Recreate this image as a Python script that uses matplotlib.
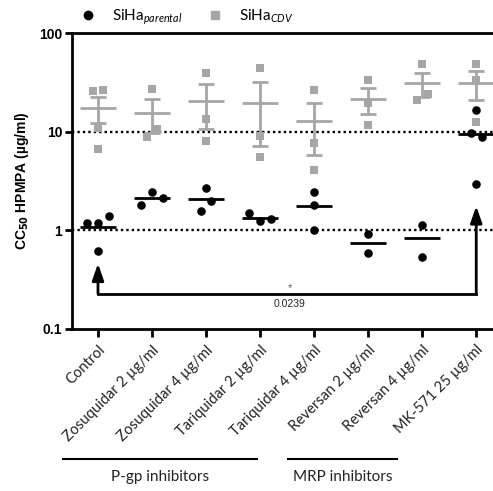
import numpy as np
import matplotlib.pyplot as plt
from matplotlib.lines import Line2D
from matplotlib.transforms import blended_transform_factory

plt.rcParams['font.family'] = ['Lato', 'DejaVu Sans']
plt.rcParams['mathtext.fontset'] = 'custom'
plt.rcParams['mathtext.rm'] = 'Lato'
plt.rcParams['mathtext.it'] = 'Lato:italic'

# treatments (x axis)
conditions = ["Control", "Zosuquidar 2 µg/ml", "Zosuquidar 4 µg/ml",
              "Tariquidar 2 µg/ml", "Tariquidar 4 µg/ml", "Reversan 2 µg/ml",
              "Reversan 4 µg/ml", "MK-571 25 µg/ml"]

# CC50 HPMPA (µg/ml), individual experiments
siha_parental = [
    [1.18, 1.18, 1.39, 0.615],
    [1.79, 2.45, 2.13],
    [2.67, 1.57, 1.97],
    [1.49, 1.23, 1.31],
    [2.43, 1.81, 1.0],
    [0.91, 0.59],
    [1.14, 0.54],
    [16.5, 9.6, 8.8, 2.97],
]
siha_cdv = [
    [25.9, 26.5, 10.9, 6.6],
    [27.3, 8.9, 10.6],
    [39.6, 13.4, 8.1],
    [44.4, 8.97, 5.5],
    [26.5, 7.6, 4.07],
    [33.6, 19.5, 11.8],
    [48.1, 21.0, 24.3],
    [48.1, 33.4, 12.6],
]

# inhibitor classes: name, extent of the underline along x
groups = [("P-gp inhibitors", -0.65, 2.94), ("MRP inhibitors", 3.52, 5.54)]
p_value = "0.0239"
compare = (0, 7)

GRAY = '#a6a6a6'

fig = plt.figure(figsize=(4.93, 4.91), dpi=100)
ax = fig.add_axes([72 / 493, 162 / 491, 421 / 493, 296 / 491])
ax.set_yscale('log')
ax.set_ylim(0.1, 100)
ax.set_xlim(-0.481, 7.31)


def spread(x0, vals, step=0.2, gap_px=11):
    # points closer than gap_px vertically are set side by side
    ypix = ax.transData.transform(np.column_stack([np.full(len(vals), x0), vals]))[:, 1]
    order = np.argsort(ypix)
    clusters, cur = [], [order[0]]
    for a, b in zip(order[:-1], order[1:]):
        if ypix[b] - ypix[a] < gap_px:
            cur.append(b)
        else:
            clusters.append(cur)
            cur = [b]
    clusters.append(cur)
    xs = np.full(len(vals), float(x0))
    for c in clusters:
        c = sorted(c)
        n = len(c)
        for i, k in enumerate(c):
            xs[k] = x0 + (i - (n - 1) / 2) * step
    return xs


# reference lines at 1 and 10
for ref in (1, 10):
    ax.axhline(ref, color='black', ls=(0, (1, 1.3)), lw=1.7, zorder=1)

for i in range(len(conditions)):
    cdv = np.array(siha_cdv[i])
    par = np.array(siha_parental[i])
    m = cdv.mean()
    sem = cdv.std(ddof=1) / np.sqrt(len(cdv))
    ax.plot([i - 0.33, i + 0.33], [m, m], color=GRAY, lw=2, zorder=2, solid_capstyle='butt')
    ax.errorbar(i, m, yerr=sem, color=GRAY, lw=2, capsize=6, capthick=2, zorder=2)
    ax.scatter(spread(i, cdv), cdv, marker='s', s=30, color=GRAY, lw=0, zorder=3)

    pm = par.mean()
    ax.plot([i - 0.33, i + 0.33], [pm, pm], color='black', lw=2, zorder=4, solid_capstyle='butt')
    ax.scatter(spread(i, par), par, marker='o', s=38, color='black', lw=0, zorder=5)

# significance bracket
x1, x2 = compare
yb = 0.228
arrow = dict(arrowstyle='-|>,head_width=0.35,head_length=1.0', color='black', lw=2, shrinkA=0, shrinkB=0)
ax.plot([x1, x2], [yb, yb], color='black', lw=2, zorder=6)
ax.annotate('', xy=(x1, 0.46), xytext=(x1, yb), arrowprops=arrow)
ax.annotate('', xy=(x2, 1.76), xytext=(x2, yb), arrowprops=arrow)
xm = (x1 + x2) / 2 + 0.05
ax.text(xm, 0.262, '*', ha='center', va='center', fontsize=8, color='#555555', family='Liberation Sans')
ax.text(xm, 0.178, p_value, ha='center', va='center', fontsize=7.5, color='#222222', family='Liberation Sans')

# axes styling
ax.spines['right'].set_visible(False)
for s in ('left', 'bottom', 'top'):
    ax.spines[s].set_linewidth(2)
ax.set_yticks([0.1, 1, 10, 100])
ax.set_yticklabels(['0.1', '1', '10', '100'], fontweight='bold', family='Liberation Sans', fontsize=10)
ax.yaxis.set_minor_locator(plt.NullLocator())
ax.tick_params(axis='y', length=5, width=2, pad=2)
ax.set_xticks(range(len(conditions)))
ax.set_xticklabels(conditions, rotation=45, ha='right', va='top', rotation_mode='anchor', fontsize=10.5, color='#222222')
ax.tick_params(axis='x', length=6, width=2, pad=4)
ax.set_ylabel(r'CC$_{\mathbf{50}}$ HPMPA (µg/ml)', fontweight='bold', family='Liberation Sans', fontsize=10, labelpad=6)

# inhibitor group underlines below the labels
tr = blended_transform_factory(ax.transData, ax.transAxes)
for name, xa, xb in groups:
    ax.plot([xa, xb], [-0.44, -0.44], color='black', lw=1.5, transform=tr, clip_on=False)
    ax.text((xa + xb) / 2, -0.50, name, transform=tr, ha='center', va='center', fontsize=11, color='#222222')

handles = [Line2D([], [], marker='o', ls='', color='black', ms=6),
           Line2D([], [], marker='s', ls='', color=GRAY, ms=5.5)]
fig.legend(handles, [r'SiHa$_{\it parental}$', r'SiHa$_{\it CDV}$'], loc='center left',
           bbox_to_anchor=(0.135, 0.965), ncol=2, frameon=False, fontsize=11,
           handletextpad=1.1, columnspacing=1.6, handlelength=1)

fig.savefig('out.png', dpi=100)
